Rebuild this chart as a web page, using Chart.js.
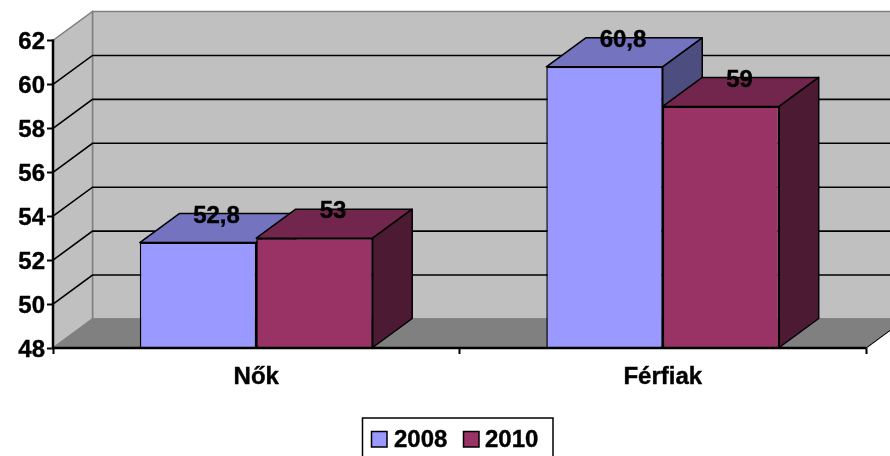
<!DOCTYPE html>
<html><head><meta charset="utf-8">
<style>html,body{margin:0;padding:0;background:#fff}#wrap{width:890px;height:456px;position:relative}</style>
<script src="https://cdn.jsdelivr.net/npm/chart.js@4"></script></head>
<body><div id="wrap"><canvas id="c" width="890" height="456"></canvas></div>
<script>
const categories = ["Nők", "Férfiak"];
const seriesNames = ["2008", "2010"];
const values2008 = [52.8, 60.8];
const values2010 = [53, 59];
const yTicks = [48, 50, 52, 54, 56, 58, 60, 62];
const frontColors = ["#9999FF", "#993366"];
const topColors = ["#7373BF", "#73264D"];
const sideColors = ["#4D4D80", "#4D1A33"];
const DX = 39.5, DY = -29;
const FAMILY = "'Liberation Sans', Arial, sans-serif";
const FONT = "bold 24px " + FAMILY;
const STROKE = 0.4;

function drawFaces(chart, i) {
  const { ctx } = chart;
  ctx.save();
  ctx.strokeStyle = "#000"; ctx.lineWidth = 1.5; ctx.lineJoin = "round";
  chart.getDatasetMeta(i).data.forEach(b => {
    const l = b.x - b.width / 2, r = b.x + b.width / 2;
    ctx.fillStyle = topColors[i];
    ctx.beginPath(); ctx.moveTo(l, b.y); ctx.lineTo(l + DX, b.y + DY); ctx.lineTo(r + DX, b.y + DY); ctx.lineTo(r, b.y); ctx.closePath(); ctx.fill(); ctx.stroke();
    ctx.fillStyle = sideColors[i];
    ctx.beginPath(); ctx.moveTo(r, b.y); ctx.lineTo(r + DX, b.y + DY); ctx.lineTo(r + DX, b.base + DY); ctx.lineTo(r, b.base); ctx.closePath(); ctx.fill(); ctx.stroke();
  });
  ctx.restore();
}

function boldText(ctx, s, x, y) {
  ctx.fillText(s, x, y);
  ctx.strokeText(s, x, y);
}

const scene3d = {
  id: "scene3d",
  beforeDatasetsDraw(chart) {
    const { ctx, chartArea: a, scales: { y } } = chart;
    const L = a.left, R = a.right, B = a.bottom, T = a.top;
    ctx.save();
    ctx.fillStyle = "#C0C0C0"; ctx.strokeStyle = "#808080"; ctx.lineWidth = 1.5;
    ctx.beginPath(); ctx.moveTo(L + DX, B + DY); ctx.lineTo(L + DX, T + DY); ctx.lineTo(R + DX, T + DY); ctx.lineTo(R + DX, B + DY); ctx.closePath(); ctx.fill(); ctx.stroke();
    ctx.beginPath(); ctx.moveTo(L, B); ctx.lineTo(L, T); ctx.lineTo(L + DX, T + DY); ctx.lineTo(L + DX, B + DY); ctx.closePath(); ctx.fill(); ctx.stroke();
    ctx.fillStyle = "#808080";
    ctx.beginPath(); ctx.moveTo(L, B); ctx.lineTo(L + DX, B + DY); ctx.lineTo(R + DX, B + DY); ctx.lineTo(R, B); ctx.closePath(); ctx.fill(); ctx.stroke();
    ctx.strokeStyle = "#000"; ctx.lineWidth = 1;
    ctx.beginPath(); ctx.moveTo(R, B); ctx.lineTo(R + DX, B + DY); ctx.stroke();
    ctx.lineWidth = 1.6;
    y.ticks.forEach(t => {
      if (t.value === y.min || t.value === y.max) return;
      const py = y.getPixelForValue(t.value);
      ctx.beginPath(); ctx.moveTo(L, py); ctx.lineTo(L + DX, py + DY); ctx.lineTo(R + DX, py + DY); ctx.stroke();
    });
    ctx.restore();
  },
  beforeDatasetDraw(chart, args) {
    // Chart.js paints the last dataset first; here the later series must sit in front.
    if (args.index !== 0) return false;
    drawFaces(chart, 0);
  },
  afterDatasetDraw(chart, args) {
    if (args.index !== 0) return;
    for (let i = 1; i < chart.data.datasets.length; i++) {
      drawFaces(chart, i);
      chart.getDatasetMeta(i).controller.draw();
    }
  },
  afterDatasetsDraw(chart) {
    const { ctx, chartArea: a } = chart;
    ctx.save();
    ctx.strokeStyle = "#000"; ctx.lineWidth = 2.5;
    ctx.beginPath(); ctx.moveTo(a.left, a.top - 1); ctx.lineTo(a.left, a.bottom); ctx.lineTo(a.right, a.bottom); ctx.stroke();
    ctx.fillStyle = "#000"; ctx.font = FONT; ctx.textAlign = "center"; ctx.textBaseline = "middle";
    ctx.lineWidth = STROKE;
    chart.data.datasets.forEach((ds, i) => {
      chart.getDatasetMeta(i).data.forEach((b, j) => {
        boldText(ctx, String(ds.data[j]).replace(".", ","), b.x + 18.5, b.y - 26.5);
      });
    });
    ctx.restore();
  },
  afterDraw(chart) {
    const { ctx } = chart;
    ctx.save();
    ctx.strokeStyle = "#000"; ctx.lineWidth = 1.5;
    ctx.strokeRect(362.5, 418, 190.5, 44);
    ctx.font = FONT; ctx.textAlign = "left"; ctx.textBaseline = "alphabetic";
    [[371.5, 394], [463.5, 485]].forEach((pos, i) => {
      ctx.fillStyle = frontColors[i];
      ctx.fillRect(pos[0], 431.5, 15.5, 15.5);
      ctx.strokeRect(pos[0], 431.5, 15.5, 15.5);
      ctx.fillStyle = "#000"; ctx.lineWidth = STROKE;
      boldText(ctx, chart.data.datasets[i].label, pos[1], 447);
      ctx.lineWidth = 1.5;
    });
    ctx.restore();
  }
};

const tickFont = { family: FAMILY, size: 24, weight: "bold" };

new Chart(document.getElementById("c"), {
  type: "bar",
  data: {
    labels: categories,
    datasets: [
      { label: seriesNames[0], data: values2008, base: yTicks[0], backgroundColor: frontColors[0], borderColor: "#000", borderWidth: 1.5 },
      { label: seriesNames[1], data: values2010, base: yTicks[0], backgroundColor: frontColors[1], borderColor: "#000", borderWidth: 1.5 }
    ]
  },
  plugins: [scene3d],
  options: {
    responsive: false,
    animation: false,
    events: [],
    layout: { padding: { top: 40.5, right: 24, left: 0, bottom: 0 } },
    plugins: {
      tooltip: { enabled: false },
      title: { display: false },
      legend: { display: false }
    },
    datasets: { bar: { categoryPercentage: 0.573, barPercentage: 1 } },
    scales: {
      x: {
        offset: true,
        grid: { drawOnChartArea: false, drawTicks: true, tickLength: 6, tickColor: "#000", tickWidth: 2, offset: true },
        border: { display: false },
        ticks: { color: "#000", font: tickFont, padding: 8.5, maxRotation: 0, textStrokeColor: "#000", textStrokeWidth: STROKE },
        afterFit(s) { s.height = 108; }
      },
      y: {
        min: 48, max: 62,
        afterBuildTicks(s) { s.ticks = yTicks.map(v => ({ value: v })); },
        grid: { drawOnChartArea: false, drawTicks: true, tickLength: 6, tickColor: "#000", tickWidth: 2 },
        border: { display: false },
        ticks: { color: "#000", font: tickFont, padding: 2, labelOffset: 2, textStrokeColor: "#000", textStrokeWidth: STROKE },
        afterFit(s) { s.width = 53; }
      }
    }
  }
});
</script></body></html>
